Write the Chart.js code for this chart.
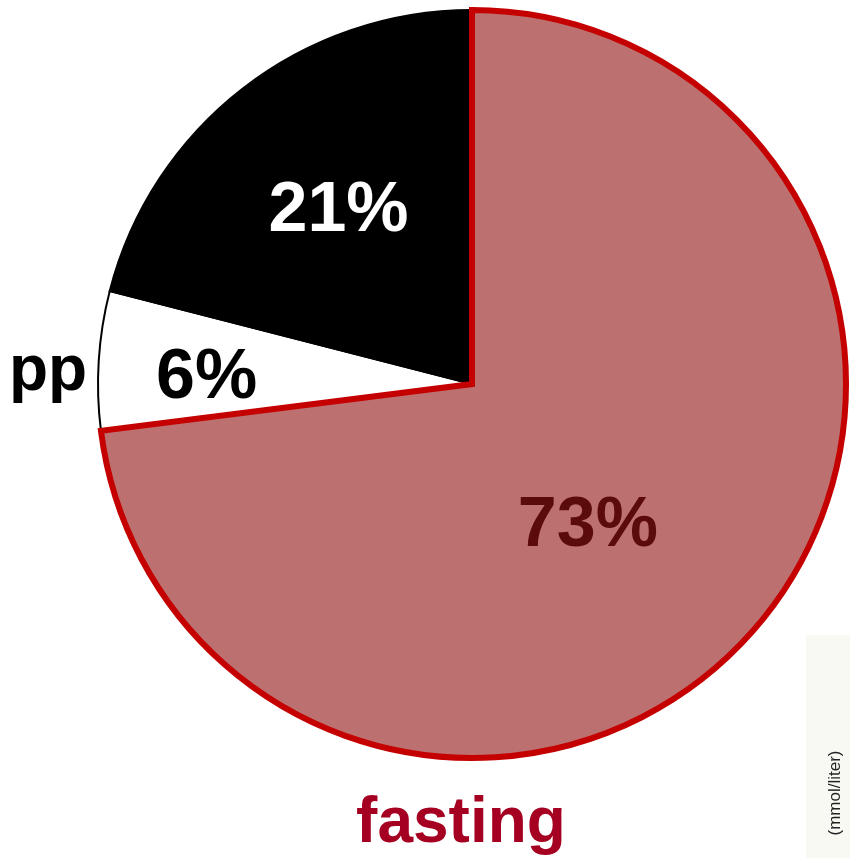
<!DOCTYPE html>
<html>
<head>
<meta charset="utf-8">
<script src="https://cdn.jsdelivr.net/npm/chart.js@4.4.1/dist/chart.umd.min.js"></script>
<style>
  html, body { margin: 0; padding: 0; background: #ffffff; }
  #wrap { position: relative; width: 850px; height: 858px; }
  canvas { display: block; }
</style>
</head>
<body>
<div id="wrap"><canvas id="pie" width="850" height="858"></canvas></div>
<script>
// Share of readings by measurement type (percent)
const categories = ['pp', 'other', 'fasting'];
const shares = [6, 21, 73];
const valueLabels = ['6%', '21%', '73%'];
const unitLabel = '(mmol/liter)';

// Slice appearance, in the same order as the categories
const fills = ['#ffffff', '#000000', '#bd7070'];
const borders = ['#000000', '#000000', '#c40000'];
const borderWidths = [2, 2, 6];
const labelColors = ['#000000', '#ffffff', '#5c0b0b'];
// radial position of each value label (fraction of radius) and angular nudge (radians)
const labelRadius = [0.71, 0.59, 0.485];
const labelAngleShift = [-0.03, 0.01, 0.155];

const FONT = '"Liberation Sans", Arial, Helvetica, sans-serif';

// start angle so the fasting slice begins at 12 o'clock and runs clockwise
const startDeg = 360 * (shares[2] / 100);

const labelPlugin = {
  id: 'sliceLabels',
  beforeDraw(chart) {
    const ctx = chart.ctx;
    // faint scanned panel in the lower right corner
    ctx.save();
    ctx.fillStyle = '#f9f9f4';
    ctx.fillRect(806, 635, 44, 223);
    ctx.restore();
  },
  afterDraw(chart) {
    const ctx = chart.ctx;
    const meta = chart.getDatasetMeta(0);
    ctx.save();
    ctx.textAlign = 'center';
    ctx.textBaseline = 'middle';
    ctx.font = 'bold 70px ' + FONT;
    meta.data.forEach((arc, i) => {
      const p = arc.getProps(['x', 'y', 'startAngle', 'endAngle', 'outerRadius']);
      const mid = (p.startAngle + p.endAngle) / 2 + labelAngleShift[i];
      const r = p.outerRadius * labelRadius[i];
      ctx.fillStyle = labelColors[i];
      ctx.fillText(valueLabels[i], p.x + Math.cos(mid) * r, p.y + Math.sin(mid) * r + 3);
    });

    // category names
    ctx.font = 'bold 64px ' + FONT;
    ctx.fillStyle = '#000000';
    ctx.fillText(categories[0], 48, 372);
    ctx.fillStyle = '#a50021';
    ctx.fillText(categories[2], 461, 824);

    // unit caption, rotated
    ctx.translate(835, 793);
    ctx.rotate(-Math.PI / 2);
    ctx.font = '17px ' + FONT;
    ctx.fillStyle = '#222222';
    ctx.fillText(unitLabel, 0, 0);
    ctx.restore();
  }
};

new Chart(document.getElementById('pie'), {
  type: 'pie',
  data: {
    labels: categories,
    datasets: [{
      data: shares,
      backgroundColor: fills,
      borderColor: borders,
      borderWidth: borderWidths,
      borderJoinStyle: 'miter',
      radius: 374
    }]
  },
  options: {
    responsive: false,
    animation: false,
    rotation: startDeg,
    layout: { padding: { left: 94, right: 0, top: 0, bottom: 90 } },
    plugins: {
      legend: { display: false },
      tooltip: { enabled: false }
    }
  },
  plugins: [labelPlugin]
});
</script>
</body>
</html>
